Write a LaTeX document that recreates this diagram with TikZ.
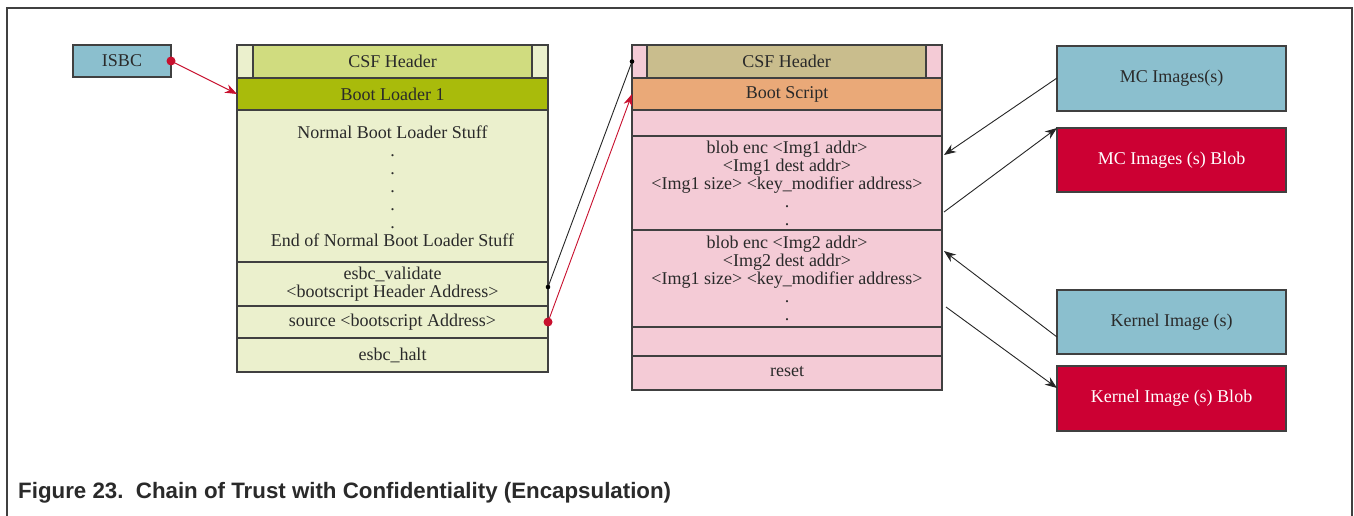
\documentclass[tikz,border=0pt]{standalone}
\usepackage{fontspec}
\setmainfont{Liberation Serif}
\newfontfamily\capfont{Liberation Sans}
\usetikzlibrary{arrows.meta}
\definecolor{lblue}{HTML}{8BBFCE}
\definecolor{pgreen}{HTML}{EBF0CD}
\definecolor{cgreen}{HTML}{D0DC7F}
\definecolor{olive}{HTML}{A9BB0B}
\definecolor{pink}{HTML}{F4CBD6}
\definecolor{tan}{HTML}{C9BD8D}
\definecolor{orng}{HTML}{EAA978}
\definecolor{blobred}{HTML}{CC0033}
\definecolor{lred}{HTML}{C8102E}
\definecolor{edge}{HTML}{404040}
\definecolor{txt}{HTML}{2A2A2A}
\tikzset{
  cell/.style={draw=edge, line width=1.1pt, inner sep=0pt, outer sep=0pt, anchor=north west,
    font=\fontsize{18}{18}\selectfont, text=txt, align=center},
  conn/.style={line width=0.9pt},
  redconn/.style={conn, draw=lred},
  blkconn/.style={conn, draw=black!85},
  tip/.style={-{Stealth[length=12pt,width=9pt]}},
}
\begin{document}
\begin{tikzpicture}[x=1pt,y=-1pt]
\useasboundingbox (0,0) rectangle (1354,516);
\fill[white] (0,0) rectangle (1354,516);
% outer frame (open at bottom)
\draw[edge, line width=2.2pt] (7,516) -- (7,8) -- (1352,8) -- (1352,516);

% ISBC
\node[cell, fill=lblue, minimum width=98pt, minimum height=32pt] (isbc) at (73,45) {ISBC};

% left column
\node[cell, fill=pgreen, minimum width=311pt, minimum height=33pt] (lcsfo) at (237,45) {};
\node[cell, fill=cgreen, minimum width=279pt, minimum height=33pt] (lcsf) at (253,45) {CSF Header};
\node[cell, fill=olive, minimum width=311pt, minimum height=32pt] (bl1) at (237,78) {Boot Loader 1};
\node[cell, fill=pgreen, minimum width=311pt, minimum height=152pt] (body) at (237,110)
  {Normal Boot Loader Stuff\\.\\.\\.\\.\\.\\End of Normal Boot Loader Stuff};
\node[cell, fill=pgreen, minimum width=311pt, minimum height=44pt] (val) at (237,262)
  {esbc\_validate\\\textless bootscript Header Address\textgreater};
\node[cell, fill=pgreen, minimum width=311pt, minimum height=32pt] (src) at (237,306)
  {source \textless bootscript Address\textgreater};
\node[cell, fill=pgreen, minimum width=311pt, minimum height=34pt] (halt) at (237,338) {esbc\_halt};

% middle column
\node[cell, fill=pink, minimum width=310pt, minimum height=33pt] (mcsfo) at (632,45) {};
\node[cell, fill=tan, minimum width=279pt, minimum height=33pt] (mcsf) at (647,45) {CSF Header};
\node[cell, fill=orng, minimum width=310pt, minimum height=32pt] (bs) at (632,78) {Boot Script\vphantom{g}};
\node[cell, fill=pink, minimum width=310pt, minimum height=26pt] (e1) at (632,110) {};
\node[cell, fill=pink, minimum width=310pt, minimum height=94pt] (blk1) at (632,136)
  {blob enc \textless Img1 addr\textgreater\\\textless Img1 dest addr\textgreater\\\textless Img1 size\textgreater{} \textless key\_modifier address\textgreater\\.\\.};
\node[cell, fill=pink, minimum width=310pt, minimum height=97pt] (blk2) at (632,230)
  {blob enc \textless Img2 addr\textgreater\\\textless Img2 dest addr\textgreater\\\textless Img1 size\textgreater{} \textless key\_modifier address\textgreater\\.\\.};
\node[cell, fill=pink, minimum width=310pt, minimum height=29pt] (e2) at (632,327) {};
\node[cell, fill=pink, minimum width=310pt, minimum height=34pt] (rst) at (632,356) {reset\vphantom{g}};

% right boxes
\node[cell, fill=lblue, minimum width=229pt, minimum height=65pt] (mci) at (1057,46) {MC Images(s)};
\node[cell, fill=blobred, text=white, minimum width=229pt, minimum height=64pt] (mcb) at (1057,128) {MC Images (s) Blob};
\node[cell, fill=lblue, minimum width=229pt, minimum height=64pt] (ki) at (1057,290) {Kernel Image (s)};
\node[cell, fill=blobred, text=white, minimum width=229pt, minimum height=65pt] (kb) at (1057,366) {Kernel Image (s) Blob};

% connector end points
\coordinate (valpt) at (val.east |- 0,287);
\coordinate (b1in) at (blk1.east |- 0,155);
\coordinate (b1out) at (blk1.east |- 0,212);
\coordinate (b2in) at (blk2.east |- 0,251);
\coordinate (b2out) at (blk2.east |- 0,307);
\coordinate (mciout) at (mci.west |- 0,78);
\coordinate (kiout) at (ki.west |- 0,337);
\coordinate (kbin) at (kb.west |- 0,388);

% connectors
\draw[redconn, tip] (isbc.east) -- (bl1.west);
\fill[lred] (isbc.east) circle (4.5pt);
\draw[blkconn] (valpt) -- (mcsfo.west);
\fill[black] (valpt) circle (2.3pt);
\fill[black] (mcsfo.west) circle (2.3pt);
\draw[redconn, tip] (src.east) -- (bs.west);
\fill[lred] (src.east) circle (4.5pt);

\draw[blkconn, tip] (mciout) -- ([xshift=2pt]b1in);
\draw[blkconn, tip] ([xshift=2pt]b1out) -- (mcb.north west);
\draw[blkconn, tip] (kiout) -- ([xshift=2pt]b2in);
\draw[blkconn, tip] ([xshift=4pt]b2out) -- (kbin);

% caption
\node[anchor=base west, inner sep=0pt, font=\capfont\bfseries\fontsize{22.3}{26}\selectfont, text=txt] (cap) at (18,498)
  {Figure 23.\ \ Chain of Trust with Confidentiality (Encapsulation)};
\end{tikzpicture}
\end{document}
